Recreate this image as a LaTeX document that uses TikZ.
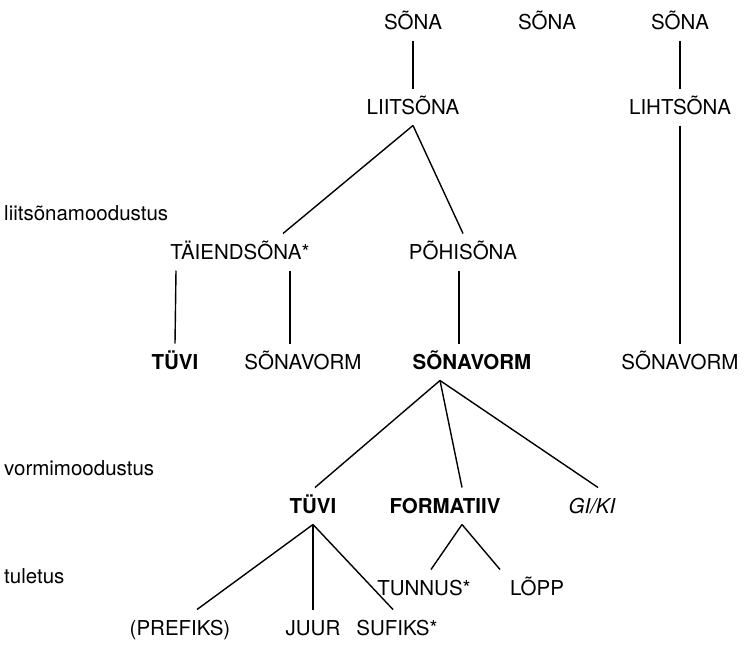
\documentclass[tikz,border=0pt]{standalone}
\usepackage{fontspec}
\setmainfont{TeX Gyre Heros}
% capital O with tilde
\newcommand{\Otil}{\char"00D5\relax}
\begin{document}
\begin{tikzpicture}[x=1pt,y=-1pt,
  every node/.style={font=\fontsize{20.5}{24}\selectfont, inner xsep=0pt,
    inner ysep=11pt, text height=14.6pt, text depth=0pt},
  key/.style={font=\fontsize{20.5}{24}\selectfont\bfseries},
  lvl/.style={anchor=west, font=\fontsize{20.5}{24}\selectfont},
  link/.style={line width=1.4pt}]
\useasboundingbox (0,0) rectangle (746,645);

% level labels
\node[lvl] (l1) at (4,213) {liits\char"00F5\relax namoodustus};
\node[lvl] (l2) at (4,468) {vormimoodustus};
\node[lvl] (l3) at (4,576) {tuletus};

% word level
\node (sona1) at (413,22) {S\Otil NA};
\node (sona2) at (547,22) {S\Otil NA};
\node (sona3) at (680,22) {S\Otil NA};
\node (liit) at (413,107) {LIITS\Otil NA};
\node (liht) at (680,107) {LIHTS\Otil NA};

% compound formation
\node (taiend) at (240,252) {TÄIENDS\Otil NA*};
\node (pohi) at (463,252) {P\Otil HIS\Otil NA};
\node[key] (tuvi1) at (175,362) {TÜVI};
\node (svorm1) at (303,362) {S\Otil NAVORM};
\node[key] (svorm2) at (472,362) {S\Otil NAVORM};
\node (svorm3) at (680,362) {S\Otil NAVORM};

% form formation
\node[key] (tuvi2) at (313,506) {TÜVI};
\node[key] (form) at (445,506) {FORMATIIV};
\node (giki) at (592,506) {\itshape GI/KI};
\node (tunnus) at (424,588) {TUNNUS*};
\node (lopp) at (537,588) {L\Otil PP};

% derivation
\node (prefiks) at (180,628) {(PREFIKS)};
\node (juur) at (313,628) {JUUR};
\node (sufiks) at (397,628) {SUFIKS*};

% connectors
\draw[link] (sona1.south) -- (liit.north);
\draw[link] (sona3.south) -- (liht.north);
\draw[link] (liit.south) -- ([xshift=43pt]taiend.north);
\draw[link] (liit.south) -- (pohi.north);
\draw[link] ([xshift=-64pt]taiend.south) -- (tuvi1.north);
\draw[link] ([xshift=50pt]taiend.south) -- ([xshift=-13pt]svorm1.north);
\draw[link] ([xshift=-4pt]pohi.south) -- ([xshift=-13pt]svorm2.north);
\draw[link] (liht.south) -- (svorm3.north);
\draw[link] ([xshift=-32pt]svorm2.south) -- ([xshift=2pt]tuvi2.north);
\draw[link] ([xshift=-32pt]svorm2.south) -- ([xshift=17pt]form.north);
\draw[link] ([xshift=-32pt]svorm2.south) -- ([xshift=6pt]giki.north);
\draw[link] ([xshift=17pt]form.south) -- ([xshift=7pt]tunnus.north);
\draw[link] ([xshift=17pt]form.south) -- ([xshift=-37pt]lopp.north);
\draw[link] (tuvi2.south) -- ([xshift=17pt]prefiks.north);
\draw[link] (tuvi2.south) -- (juur.north);
\draw[link] (tuvi2.south) -- ([xshift=-4pt]sufiks.north);
\end{tikzpicture}
\end{document}
